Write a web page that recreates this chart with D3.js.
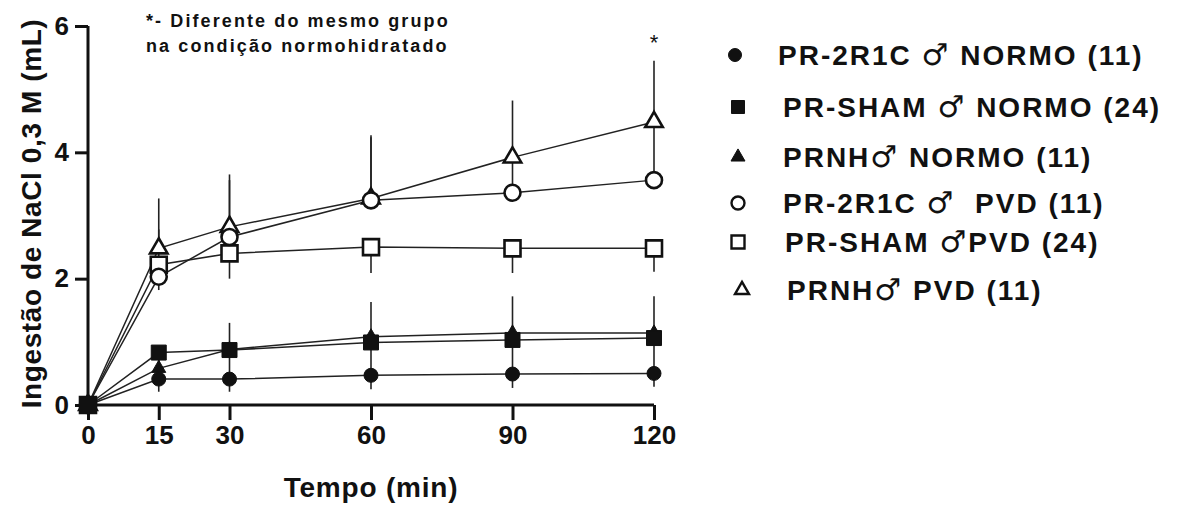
<!DOCTYPE html>
<html>
<head>
<meta charset="utf-8">
<script src="https://cdn.jsdelivr.net/npm/d3@7"></script>
<style>
  html, body { margin: 0; padding: 0; background: #fff; }
  svg { display: block; }
  text { font-family: "Liberation Sans", Arial, sans-serif; font-weight: bold; fill: #111; }
</style>
</head>
<body>
<svg id="chart" width="1181" height="508"></svg>
<script>
// Sampling times (min)
const times = [0, 15, 30, 60, 90, 120];
const xTicks = [0, 15, 30, 60, 90, 120];
const yTicks = [0, 2, 4, 6];

// Mean cumulative intake (mL) per group
const normo2R1C   = [0, 0.41, 0.41, 0.47, 0.49, 0.50];
const normoSham   = [0, 0.83, 0.87, 0.99, 1.03, 1.06];
const normoPRNH   = [0, 0.58, 0.88, 1.08, 1.14, 1.14];
const pvd2R1C     = [0, 2.03, 2.66, 3.24, 3.36, 3.56];
const pvdSham     = [0, 2.22, 2.40, 2.50, 2.48, 2.48];
const pvdPRNH     = [0, 2.48, 2.82, 3.27, 3.92, 4.48];

// Standard deviations (one-sided bars)
const normo2R1CSd = [0, 0.20, 0.20, 0.22, 0.22, 0.21];
const normoShamSd = [0, 0.42, 0.46, 0.52, 0.54, 0.56];
const normoPRNHSd = [0, 0.22, 0.42, 0.55, 0.58, 0.58];
const pvd2R1CSd   = [0, 0.75, 0.90, 1.00, 0.55, 0.92];
const pvdShamSd   = [0, 0.40, 0.40, 0.41, 0.39, 0.37];
const pvdPRNHSd   = [0, 0.79, 0.83, 1.00, 0.90, 0.97];

// Legend labels split around the male sign: [before, after]
const groupLabels = [
  ["PR-2R1C ", " NORMO (11)"],
  ["PR-SHAM ", " NORMO (24)"],
  ["PRNH", " NORMO (11)"],
  ["PR-2R1C ", "  PVD (11)"],
  ["PR-SHAM ", "PVD (24)"],
  ["PRNH", " PVD (11)"]
];

const series = [
  { name: groupLabels[0], values: normo2R1C, sd: normo2R1CSd, dir: -1, shape: "circle",   filled: true  },
  { name: groupLabels[1], values: normoSham, sd: normoShamSd, dir: -1, shape: "square",   filled: true  },
  { name: groupLabels[2], values: normoPRNH, sd: normoPRNHSd, dir:  1, shape: "triangle", filled: true  },
  { name: groupLabels[3], values: pvd2R1C,   sd: pvd2R1CSd,   dir:  1, shape: "circle",   filled: false },
  { name: groupLabels[4], values: pvdSham,   sd: pvdShamSd,   dir: -1, shape: "square",   filled: false },
  { name: groupLabels[5], values: pvdPRNH,   sd: pvdPRNHSd,   dir:  1, shape: "triangle", filled: false }
];

const svg = d3.select("#chart");
const x = d3.scaleLinear().domain([0, 120]).range([88, 654]);
const y = d3.scaleLinear().domain([0, 6]).range([405, 26]);

const symbolType = { circle: d3.symbolCircle, square: d3.symbolSquare, triangle: d3.symbolTriangle };
const plotSize = { circle: Math.PI * 8 * 8, square: 16 * 16, triangle: Math.sqrt(3) / 4 * 17.5 * 17.5 };
const filledSize = { circle: Math.PI * 7 * 7, square: 15 * 15, triangle: Math.sqrt(3) / 4 * 14 * 14 };
const legendSize = { circle: Math.PI * 6.5 * 6.5, square: 13 * 13, triangle: Math.sqrt(3) / 4 * 14 * 14 };

// Axes
const yAxis = d3.axisLeft(y).tickValues(yTicks).tickSize(13).tickPadding(6).tickFormat(d3.format("d"));
const xAxis = d3.axisBottom(x).tickValues(xTicks).tickSize(15).tickPadding(6).tickFormat(d3.format("d"));

const gy = svg.append("g").attr("transform", "translate(88,0)").call(yAxis);
const gx = svg.append("g").attr("transform", "translate(0,405)").call(xAxis);
[gx, gy].forEach(g => {
  g.select(".domain").attr("stroke", "#111").attr("stroke-width", 3);
  g.selectAll(".tick line").attr("stroke", "#111").attr("stroke-width", 3);
  g.selectAll(".tick text").style("font-size", "26px").style("font-family", "Liberation Sans, Arial, sans-serif")
    .style("font-weight", "bold").attr("fill", "#111");
});
gy.select(".domain").attr("d", "M0," + y(6) + "V" + y(0));
gx.select(".domain").attr("d", "M" + x(0) + ",0H" + x(120));

// Axis titles
svg.append("text")
  .attr("x", x(60)).attr("y", 497)
  .attr("text-anchor", "middle")
  .style("font-size", "28px").style("letter-spacing", "0.8px")
  .text("Tempo (min)");

svg.append("text")
  .attr("transform", "translate(41," + ((y(0) + y(6)) / 2 - 2) + ") rotate(-90)")
  .attr("text-anchor", "middle")
  .style("font-size", "28px").style("letter-spacing", "0.6px")
  .text("Ingestão de NaCl 0,3 M (mL)");

// Error bars
const plot = svg.append("g");
series.forEach(s => {
  plot.append("g").selectAll("line")
    .data(times.map((t, i) => ({ t, v: s.values[i], e: s.sd[i] })).filter(d => d.e > 0))
    .join("line")
    .attr("x1", d => x(d.t)).attr("x2", d => x(d.t))
    .attr("y1", d => y(d.v)).attr("y2", d => y(d.v + s.dir * d.e))
    .attr("stroke", "#222").attr("stroke-width", 1.6);
});

// Connecting lines
const line = d3.line().x((d, i) => x(times[i])).y(d => y(d));
series.forEach(s => {
  plot.append("path").datum(s.values)
    .attr("d", line).attr("fill", "none")
    .attr("stroke", "#222").attr("stroke-width", 1.5);
});

// Markers (open symbols underneath, filled square on top)
const drawOrder = [5, 4, 3, 2, 0, 1];
drawOrder.forEach(k => {
  const s = series[k];
  const sym = d3.symbol().type(symbolType[s.shape]).size(s.filled ? filledSize[s.shape] : plotSize[s.shape]);
  plot.append("g").selectAll("path")
    .data(s.values.map((v, i) => ({ t: times[i], v })))
    .join("path")
    .attr("transform", d => "translate(" + x(d.t) + "," + y(d.v) + ")")
    .attr("d", sym)
    .attr("fill", s.filled ? "#111" : "#fff")
    .attr("stroke", "#111")
    .attr("stroke-width", s.filled ? 1 : 2.6)
    .attr("stroke-linejoin", "miter");
});

// Significance mark
svg.append("text")
  .attr("x", x(120)).attr("y", 50)
  .attr("text-anchor", "middle")
  .style("font-size", "22px").style("font-weight", "normal")
  .text("*");

// Note
const note = svg.append("text").style("font-size", "18px").style("letter-spacing", "2.1px");
note.append("tspan").attr("x", 146).attr("y", 27).text("*- Diferente do mesmo grupo");
note.append("tspan").attr("x", 146).attr("y", 52).text("na condição normohidratado");

// Legend
const legendRows = [55, 107, 157, 203, 242, 290];
const legendMarkX = [735, 738, 738, 738, 738, 742];
const legendTextX = [778, 783, 783, 783, 785, 787];
const legend = svg.append("g");
series.forEach((s, i) => {
  const sym = d3.symbol().type(symbolType[s.shape]).size(legendSize[s.shape]);
  legend.append("path")
    .attr("transform", "translate(" + legendMarkX[i] + "," + legendRows[i] + ")")
    .attr("d", sym)
    .attr("fill", s.filled ? "#111" : "#fff")
    .attr("stroke", "#111")
    .attr("stroke-width", s.filled ? 1 : 2.4);
  const t = legend.append("text")
    .attr("x", legendTextX[i]).attr("y", legendRows[i] + 10)
    .attr("xml:space", "preserve")
    .style("white-space", "pre")
    .style("font-size", "28px").style("letter-spacing", "2px");
  t.append("tspan").text(s.name[0]);
  t.append("tspan")
    .style("font-family", "DejaVu Sans, sans-serif")
    .style("font-weight", "normal")
    .style("font-size", "30px")
    .text("\u2642");
  t.append("tspan").text(s.name[1]);
});
</script>
</body>
</html>
